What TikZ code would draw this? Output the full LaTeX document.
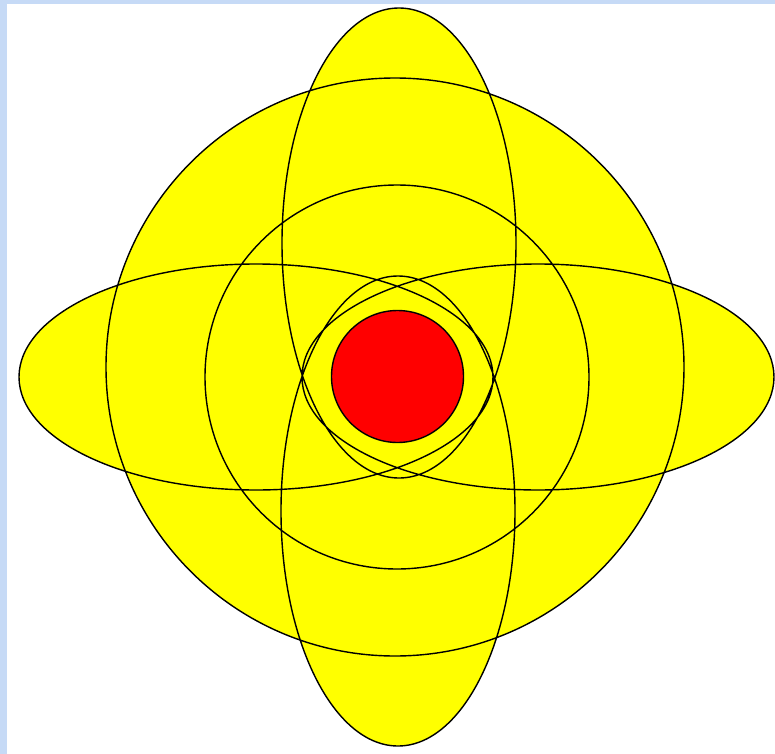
\documentclass[tikz,border=0pt]{standalone}
\usetikzlibrary{backgrounds}
\definecolor{slideblue}{RGB}{198,218,246}
\definecolor{petalyellow}{RGB}{255,255,0}
\definecolor{corered}{RGB}{255,0,0}
\begin{document}
\begin{tikzpicture}[x=0.02cm,y=-0.02cm,
    petal/.style={fill=petalyellow,draw=black,line width=0.8pt},
    core/.style={fill=corered,draw=black,line width=0.8pt},
]
% slide background
\fill[slideblue] (0,0) rectangle (775,754);
\fill[white] (7,4) rectangle (775,754);

% one path: all yellow parts filled first, then all outlines on top
\path[petal]
    (395,367) circle[radius=289]
    (397,377) circle[radius=192]
    (399,243) ellipse[x radius=117,y radius=235]
    (398,511) ellipse[x radius=117,y radius=235]
    (256,377) ellipse[x radius=237,y radius=113]
    (538,377) ellipse[x radius=236,y radius=113];

\draw[core] (397.5,376.5) circle[radius=66];
\end{tikzpicture}
\end{document}
